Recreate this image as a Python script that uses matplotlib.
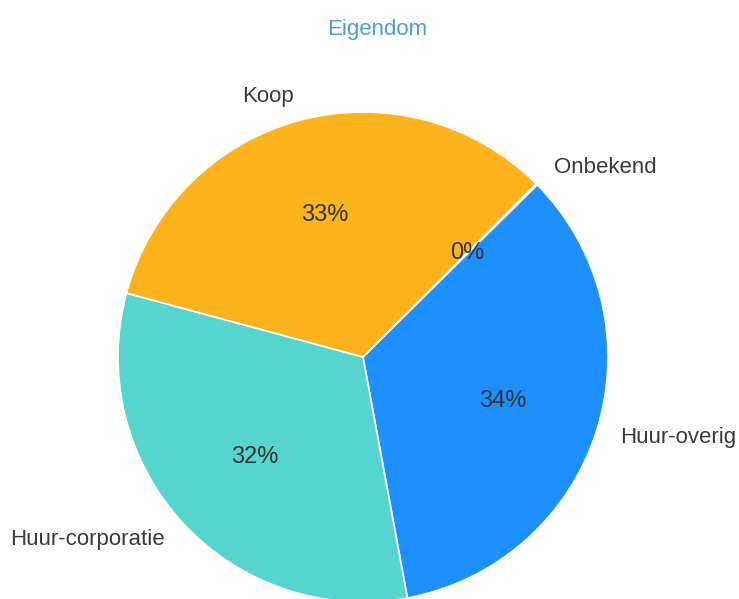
import matplotlib
matplotlib.use("Agg")
import matplotlib.pyplot as plt

labels = ["Onbekend", "Huur-overig", "Huur-corporatie", "Koop"]
values = [0.1, 34.5, 32.1, 33.3]
colors = ["#9e9e9e", "#1E8FFF", "#56D5CE", "#FDB31B"]

plt.rcParams['font.family'] = ['Liberation Sans', 'DejaVu Sans']

fig = plt.figure(figsize=(7.39, 5.99), dpi=100)
R = 245
cx, cy = 363, 599 - 357
ax = fig.add_axes([(cx - R) / 739, (cy - R) / 599, 2 * R / 739, 2 * R / 599])

wedges, texts, autotexts = ax.pie(
    values, labels=labels, colors=colors, startangle=45, counterclock=False,
    autopct=lambda p: f"{p:.0f}%", pctdistance=0.6, labeldistance=1.1,
    wedgeprops=dict(edgecolor="white", linewidth=1.2),
    textprops=dict(fontsize=16, color="#3a3a3a"))
for t in autotexts:
    t.set_fontsize(17)
    t.set_color("#333333")
ax.set_xlim(-1, 1)
ax.set_ylim(-1, 1)
ax.set_aspect("equal")

fig.text(377 / 739, 1 - 30 / 599, "Eigendom", ha="center", va="center",
         fontsize=16, color="#4A9BE6")

fig.savefig("out.png", dpi=100)
